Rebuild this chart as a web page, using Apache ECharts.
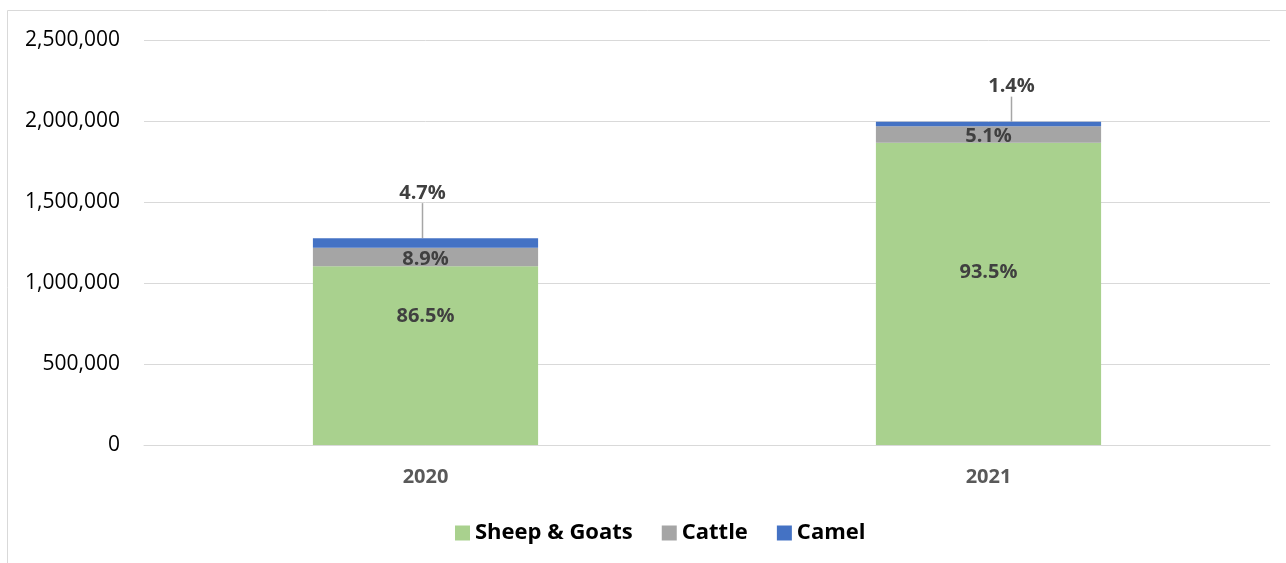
<!DOCTYPE html>
<html>
<head>
<meta charset="utf-8">
<script src="https://cdn.jsdelivr.net/npm/echarts@6/dist/echarts.min.js"></script>
<style>
html,body{margin:0;padding:0;background:#fff;}
#chart{width:1286px;height:563px;}
</style>
</head>
<body>
<div id="chart"></div>
<script>
const categories = ['2020', '2021'];
const seriesNames = ['Sheep & Goats', 'Cattle', 'Camel'];
const sheepGoats = [1104100, 1866000];
const cattle = [113150, 102000];
const camel = [59750, 28000];
const yTicks = [0, 500000, 1000000, 1500000, 2000000, 2500000];

const totals = categories.map((c, i) => sheepGoats[i] + cattle[i] + camel[i]);
const pct = (v, i) => (v / totals[i] * 100).toFixed(1) + '%';

const FONT = 'Open Sans';
const colors = ['#a9d18e', '#a5a5a5', '#4472c4'];

const chart = echarts.init(document.getElementById('chart'), null, {renderer: 'canvas'});

const labelBase = {
  show: true,
  fontFamily: FONT,
  fontWeight: 'bold',
  fontSize: 20,
  color: '#404040'
};

// offsets for label placement (styling only)
const sheepLabelShift = [-39, -22];
const camelShift = [[-3, -30], [23, -20]];

chart.setOption({
  animation: false,
  graphic: [{
    type: 'rect',
    shape: {x: 7.5, y: 10.5, width: 1300, height: 600},
    style: {fill: 'none', stroke: '#d9d9d9', lineWidth: 1},
    silent: true
  }],
  grid: {left: 144, right: 16, top: 40, bottom: 118, containLabel: false},
  legend: {
    left: 450,
    top: 517,
    itemWidth: 15,
    itemHeight: 15,
    itemGap: 29,
    icon: 'rect',
    textStyle: {fontFamily: FONT, fontWeight: 'bold', fontSize: 22, color: '#000'},
    data: seriesNames
  },
  xAxis: {
    type: 'category',
    data: categories,
    axisLine: {lineStyle: {color: '#d9d9d9', width: 1}},
    axisTick: {show: false},
    axisLabel: {fontFamily: FONT, fontWeight: 'bold', fontSize: 20, color: '#595959', margin: 22}
  },
  yAxis: {
    type: 'value',
    min: yTicks[0],
    max: yTicks[yTicks.length - 1],
    interval: yTicks[1] - yTicks[0],
    axisLine: {show: false},
    axisTick: {show: false},
    splitLine: {lineStyle: {color: '#d9d9d9', width: 1}},
    axisLabel: {
      fontFamily: FONT, fontSize: 21, color: '#000', margin: 24,
      formatter: v => v.toLocaleString('en-US')
    }
  },
  series: [
    {
      name: seriesNames[0], type: 'bar', stack: 'total', barWidth: '40%',
      itemStyle: {color: colors[0]},
      data: sheepGoats.map((v, i) => ({value: v, label: {offset: [0, sheepLabelShift[i]]}})),
      label: Object.assign({}, labelBase, {position: 'inside', formatter: p => pct(p.value, p.dataIndex)})
    },
    {
      name: seriesNames[1], type: 'bar', stack: 'total', barWidth: '40%',
      itemStyle: {color: colors[1]},
      data: cattle,
      label: Object.assign({}, labelBase, {position: 'inside', offset: [0, 2], formatter: p => pct(p.value, p.dataIndex)})
    },
    {
      name: seriesNames[2], type: 'bar', stack: 'total', barWidth: '40%',
      itemStyle: {color: colors[2]},
      data: camel,
      label: Object.assign({}, labelBase, {position: 'top', distance: 5, formatter: p => pct(p.value, p.dataIndex)}),
      labelLine: {show: true, lineStyle: {color: '#a6a6a6', width: 1.5}},
      labelLayout: p => ({dx: camelShift[p.dataIndex][0], dy: camelShift[p.dataIndex][1]})
    }
  ]
});
</script>
</body>
</html>
